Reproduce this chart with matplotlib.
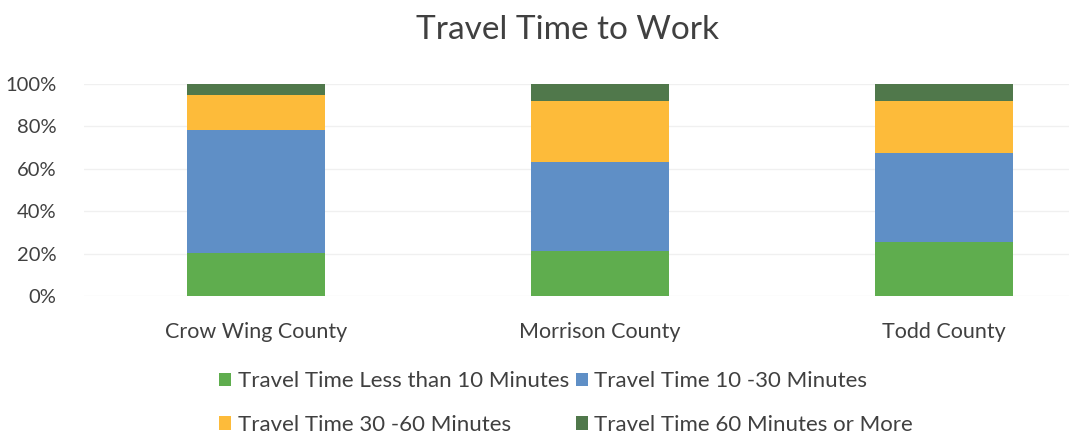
import matplotlib
matplotlib.use("Agg")
import matplotlib.pyplot as plt
from matplotlib.ticker import PercentFormatter

plt.rcParams['font.family'] = ['Lato', 'DejaVu Sans']

counties = ["Crow Wing County", "Morrison County", "Todd County"]
series_names = [
    "Travel Time Less than 10 Minutes",
    "Travel Time 10 -30 Minutes",
    "Travel Time 30 -60 Minutes",
    "Travel Time 60 Minutes or More",
]
under_10 = [20.4, 21.2, 25.6]
from_10_to_30 = [57.9, 41.9, 41.7]
from_30_to_60 = [16.5, 28.9, 24.8]
over_60 = [5.2, 8.0, 7.9]
colors = ["#5fad4e", "#5f8fc6", "#fdbb3a", "#50784b"]

fig = plt.figure(figsize=(10.69, 4.37), dpi=100)
ax = fig.add_axes([84 / 1069, 1 - 296 / 437, (1069 - 84) / 1069, (296 - 84) / 437])

x = list(range(len(counties)))
bottom = [0.0] * len(counties)
handles = []
for name, vals, c in zip(series_names, [under_10, from_10_to_30, from_30_to_60, over_60], colors):
    h = ax.bar(x, vals, width=0.4, bottom=bottom, color=c, label=name, zorder=2)
    handles.append(h)
    bottom = [b + v for b, v in zip(bottom, vals)]

ax.set_ylim(0, 100)
ax.set_xlim(-0.5, (1069 - 84) / 344 - 0.5)
ax.set_yticks([0, 20, 40, 60, 80, 100])
ax.yaxis.set_major_formatter(PercentFormatter(decimals=0))
ax.set_xticks(x)
ax.set_xticklabels(counties)
ax.tick_params(axis='x', length=0, labelsize=15.5, colors="#404040", pad=19)
ax.tick_params(axis='y', length=0, labelsize=14.5, colors="#404040", pad=20)
ax.grid(axis='y', color="#f0f0f0", linewidth=1, zorder=0)
for s in ax.spines.values():
    s.set_visible(False)

fig.text(568 / 1069, 1 - 30 / 437, "Travel Time to Work", ha="center", va="center",
         fontsize=24, color="#404040")

order = [0, 2, 1, 3]
fig.legend([handles[i] for i in order], [series_names[i] for i in order],
           ncol=2, loc="center", bbox_to_anchor=(566 / 1069, 1 - 403 / 437),
           frameon=False, fontsize=16, labelcolor="#404040",
           handlelength=0.55, handleheight=0.55, handletextpad=0.3,
           columnspacing=0.3, labelspacing=1.05)

fig.savefig("out.png", dpi=100)
